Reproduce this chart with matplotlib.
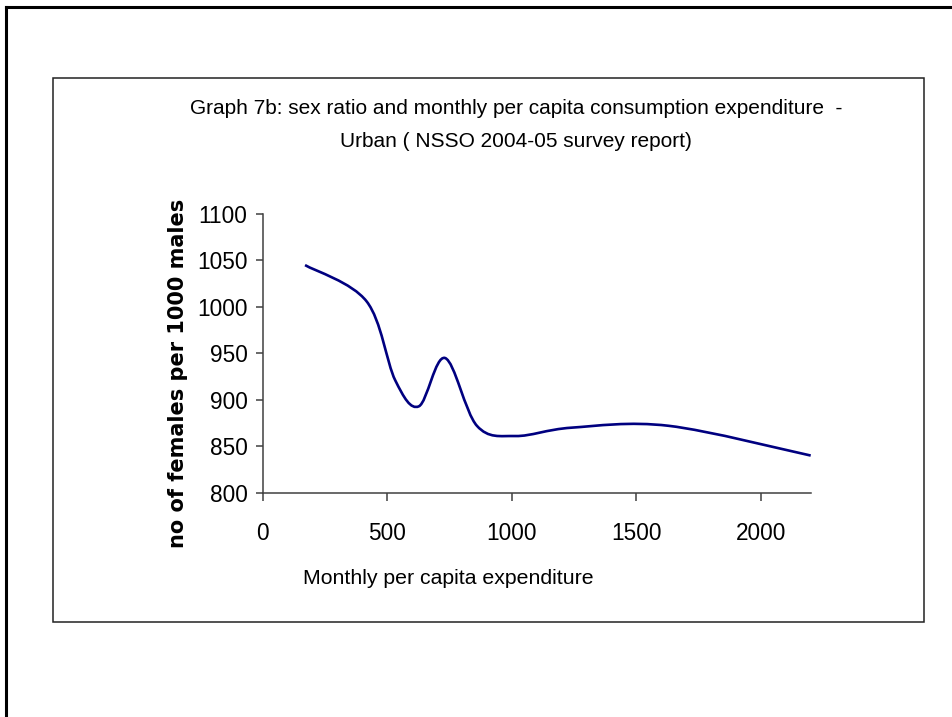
import numpy as np
import matplotlib
matplotlib.use("Agg")
import matplotlib.pyplot as plt
from matplotlib.path import Path
from matplotlib.patches import PathPatch, Rectangle
from matplotlib.lines import Line2D

# ---- data ----
mpce = [170, 417, 532, 627, 732, 860, 1015, 1240, 1630, 2200]
sex_ratio = [1045, 1006, 921, 893, 945, 872, 861, 870, 872, 840]
x_ticks = [0, 500, 1000, 1500, 2000]
y_ticks = [800, 850, 900, 950, 1000, 1050, 1100]
title = ("Graph 7b: sex ratio and monthly per capita consumption expenditure  -\n"
         "Urban ( NSSO 2004-05 survey report)")
x_label = "Monthly per capita expenditure"
y_label = "no of females per 1000 males"

plt.rcParams['font.family'] = ['Liberation Sans', 'DejaVu Sans']

W, H = 953, 717
fig = plt.figure(figsize=(W / 100, H / 100), dpi=100)

def fx(px):
    return px / W

def fy(py):
    return 1 - py / H

# outer slide border (top and left)
fig.add_artist(Line2D([fx(6), fx(953)], [fy(7), fy(7)], color='black', lw=2.2,
                      transform=fig.transFigure))
fig.add_artist(Line2D([fx(6), fx(6)], [fy(7), fy(717)], color='black', lw=2.2,
                      transform=fig.transFigure))
# chart area box
fig.add_artist(Rectangle((fx(53), fy(622)), fx(924) - fx(53), fy(78) - fy(622),
                         fill=False, edgecolor='#222222', lw=1.1,
                         transform=fig.transFigure))

ax = fig.add_axes([fx(262.7), fy(492.7), fx(810.7) - fx(262.7), fy(214) - fy(492.7)])

# smoothed line (Excel-like cardinal Bezier through the data points)
pts = np.column_stack([mpce, sex_ratio]).astype(float)
n = len(pts)
verts = [tuple(pts[0])]
codes = [Path.MOVETO]
for i in range(n - 1):
    p0 = pts[i - 1] if i > 0 else pts[i]
    p1 = pts[i]
    p2 = pts[i + 1]
    p3 = pts[i + 2] if i + 2 < n else pts[i + 1]
    c1 = p1 + (p2 - p0) / 6.0
    c2 = p2 - (p3 - p1) / 6.0
    verts += [tuple(c1), tuple(c2), tuple(p2)]
    codes += [Path.CURVE4] * 3
ax.add_patch(PathPatch(Path(verts, codes), fill=False, edgecolor='#000080',
                       lw=1.9, capstyle='butt', joinstyle='round'))

ax.set_xlim(0, 2200)
ax.set_ylim(800, 1100)
ax.set_xticks(x_ticks)
ax.set_yticks(y_ticks)
for s in ['top', 'right']:
    ax.spines[s].set_visible(False)
for s in ['left', 'bottom']:
    ax.spines[s].set_color('#404040')
    ax.spines[s].set_linewidth(1.1)
ax.tick_params(axis='y', direction='out', length=5, width=1.1, color='#404040',
               labelsize=16.3, pad=6)
ax.tick_params(axis='x', direction='out', length=6, width=1.1, color='#404040',
               labelsize=16.3, pad=15)
ax.set_facecolor('none')

fig.text(fx(190), fy(125), title, ha='left', va='center', multialignment='center',
         fontsize=15, linespacing=1.95)
fig.text(fx(303), fy(578), x_label, ha='left', va='center', fontsize=15.3)
fig.text(fx(178), fy(373), y_label, ha='center', va='center', rotation=90,
         fontsize=15, fontweight='bold', family=['DejaVu Sans'])

fig.savefig('out.png', dpi=100)
